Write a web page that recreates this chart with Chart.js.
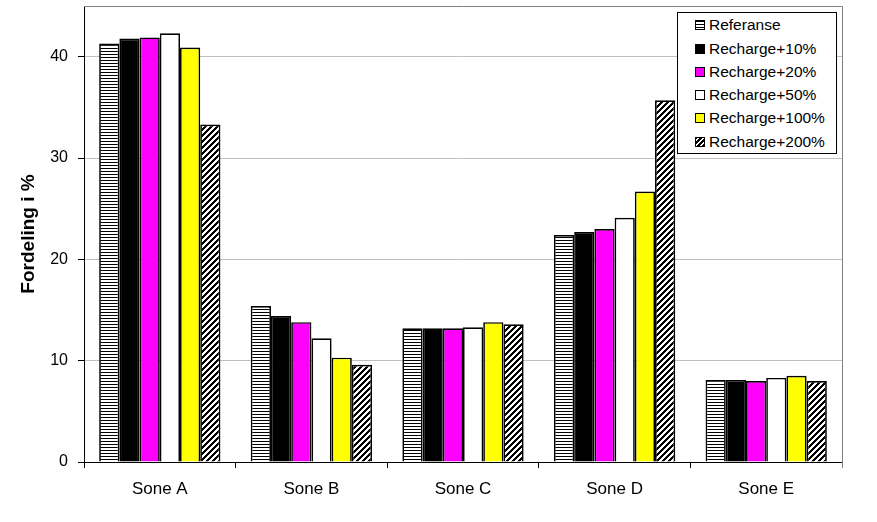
<!DOCTYPE html>
<html>
<head>
<meta charset="utf-8">
<script src="https://cdn.jsdelivr.net/npm/chart.js@4/dist/chart.umd.min.js"></script>
<style>
  html, body { margin: 0; padding: 0; background: #fff; }
  #wrap { position: relative; width: 877px; height: 522px; }
  #legend {
    position: absolute; left: 677px; top: 12px; width: 158px; height: 140px;
    border: 1px solid #000; background: #fff; box-sizing: content-box;
    font-family: "Liberation Sans", Arial, sans-serif; font-size: 15.5px; color: #000;
  }
  .item { position: absolute; left: 17px; height: 18px; line-height: 18px; white-space: nowrap; }
  .sw { display: inline-block; width: 8px; height: 8px; border: 1px solid #000; vertical-align: middle; margin-right: 4px; position: relative; top: -1px; }
</style>
</head>
<body>
<div id="wrap">
  <canvas id="c" width="877" height="522"></canvas>
  <div id="legend"></div>
</div>
<script>
const categories = ['Sone A', 'Sone B', 'Sone C', 'Sone D', 'Sone E'];
const seriesLabels = ['Referanse', 'Recharge+10%', 'Recharge+20%', 'Recharge+50%', 'Recharge+100%', 'Recharge+200%'];
const referanse   = [41.3, 15.4, 13.2, 22.4, 8.1];
const recharge10  = [41.8, 14.4, 13.2, 22.7, 8.1];
const recharge20  = [41.9, 13.8, 13.2, 23.0, 8.0];
const recharge50  = [42.3, 12.2, 13.3, 24.1, 8.3];
const recharge100 = [40.9, 10.3, 13.8, 26.7, 8.5];
const recharge200 = [33.3, 9.6, 13.6, 35.7, 8.0];
const yTicks = [0, 10, 20, 30, 40];

function stripePattern() {
  const p = document.createElement('canvas');
  p.width = 4; p.height = 3;
  const g = p.getContext('2d');
  g.fillStyle = '#fff'; g.fillRect(0, 0, 4, 3);
  g.fillStyle = '#000'; g.fillRect(0, 0, 4, 1);
  return g.createPattern(p, 'repeat');
}
function hatchPattern() {
  const n = 6;
  const p = document.createElement('canvas');
  p.width = n; p.height = n;
  const g = p.getContext('2d');
  g.fillStyle = '#fff'; g.fillRect(0, 0, n, n);
  g.fillStyle = '#000';
  for (let y = 0; y < n; y++) {
    for (let x = 0; x < n; x++) {
      if ((x + y) % n < 3) g.fillRect(x, y, 1, 1);
    }
  }
  return g.createPattern(p, 'repeat');
}

const seriesData = [referanse, recharge10, recharge20, recharge50, recharge100, recharge200];
const fills = [stripePattern(), '#000000', '#ff00ff', '#ffffff', '#ffff00', hatchPattern()];
const swatchCss = [
  'repeating-linear-gradient(to bottom, #000 0 1px, #fff 1px 3px)',
  '#000', '#ff00ff', '#fff', '#ffff00',
  'repeating-linear-gradient(-45deg, #000 0 1.5px, #fff 1.5px 3.5px)'
];

const borderPlugin = {
  id: 'plotBorder',
  afterDraw(chart) {
    const a = chart.chartArea, ctx = chart.ctx;
    ctx.save();
    ctx.strokeStyle = '#808080'; ctx.lineWidth = 1;
    ctx.beginPath();
    ctx.moveTo(a.left, a.top + 0.5); ctx.lineTo(a.right + 0.5, a.top + 0.5);
    ctx.lineTo(a.right + 0.5, a.bottom + 6);
    ctx.stroke();
    ctx.restore();
  }
};

const FONT = '"Liberation Sans", Arial, sans-serif';

new Chart(document.getElementById('c'), {
  type: 'bar',
  data: {
    labels: categories,
    datasets: seriesData.map((d, i) => ({
      label: seriesLabels[i],
      data: d,
      backgroundColor: fills[i],
      borderColor: '#000',
      borderWidth: 1.7,
      categoryPercentage: 0.8,
      barPercentage: 1.0
    }))
  },
  options: {
    responsive: false,
    animation: false,
    devicePixelRatio: 1,
    layout: { padding: { top: 6, right: 35, left: 0, bottom: 0 } },
    plugins: { legend: { display: false }, tooltip: { enabled: false } },
    scales: {
      x: {
        grid: { offset: true, drawOnChartArea: false, drawTicks: true, tickLength: 6, tickColor: '#000', color: '#000' },
        border: { color: '#000', width: 1 },
        ticks: { color: '#000', font: { family: FONT, size: 17 }, padding: 11, maxRotation: 0 },
        afterFit(s) { s.height = 60; s.paddingLeft = 0; s.paddingRight = 0; }
      },
      y: {
        min: 0, max: 45,
        afterBuildTicks(s) { s.ticks = yTicks.map(v => ({ value: v })); },
        grid: { color: '#c0c0c0', tickColor: '#000', tickLength: 6, drawTicks: true },
        border: { color: '#000', width: 1 },
        ticks: { color: '#000', font: { family: FONT, size: 16 }, padding: 10 },
        title: { display: true, text: 'Fordeling i %', color: '#000', font: { family: FONT, size: 19, weight: 'bold' }, padding: { top: 17, bottom: 0 } },
        afterFit(s) { s.width = 84; s.paddingTop = 0; s.paddingBottom = 0; }
      }
    }
  },
  plugins: [borderPlugin]
});

const leg = document.getElementById('legend');
const itemTops = [3, 27, 50, 73, 96, 120];
seriesLabels.forEach((lab, i) => {
  const el = document.createElement('div');
  el.className = 'item';
  el.style.top = itemTops[i] + 'px';
  const sw = document.createElement('span');
  sw.className = 'sw';
  sw.style.background = swatchCss[i];
  el.appendChild(sw);
  el.appendChild(document.createTextNode(lab));
  leg.appendChild(el);
});
</script>
</body>
</html>
